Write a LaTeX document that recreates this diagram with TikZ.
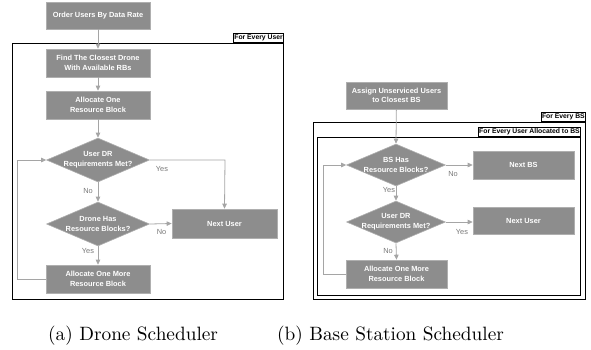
\documentclass[tikz,border=0pt]{standalone}
\usepackage{fontspec}
\newfontfamily\arial{Liberation Sans}
\newfontfamily\capfont{lmroman10-regular.otf}
\usetikzlibrary{shapes.geometric,arrows.meta}
\definecolor{boxgray}{RGB}{141,141,141}
\definecolor{boxedge}{RGB}{175,175,175}
\definecolor{linegray}{RGB}{165,165,165}
\definecolor{labgray}{RGB}{120,120,120}
\tikzset{
  procbox/.style={rectangle, fill=boxgray, draw=boxedge, line width=0.6pt, text=white,
    font=\arial\bfseries\fontsize{7.4}{8.6}\selectfont, align=center, inner sep=0pt},
  decis/.style={diamond, fill=boxgray, draw=boxedge, line width=0.6pt, inner sep=0pt, aspect=2.3},
  dtext/.style={text=white, font=\arial\bfseries\fontsize{7.4}{8.6}\selectfont, align=center, inner sep=0pt},
  flow/.style={draw=linegray, line width=0.8pt, -{Triangle[length=5pt,width=4.5pt]}},
  lab/.style={text=labgray, font=\arial\fontsize{7.4}{8.6}\selectfont, inner sep=0pt},
  frame/.style={draw=black, line width=1.1pt},
  ftag/.style={draw=black, line width=1.1pt, fill=white, font=\arial\bfseries\fontsize{6.8}{8}\selectfont,
    inner xsep=0.8pt, inner ysep=1.5pt, anchor=south east},
  capt/.style={font=\capfont\fontsize{19.3}{22}\selectfont, inner sep=0pt}
}
\begin{document}
\begin{tikzpicture}[x=1pt,y=-1pt]
\useasboundingbox (0,0) rectangle (591,349);
% ---------------- left panel ----------------
\node[frame, rectangle, minimum width=271pt, minimum height=256pt, anchor=north west, inner sep=0pt] (lframe) at (12,43) {};
\node[ftag] (ltag) at (lframe.north east) {For Every User};
\node[procbox, minimum width=104pt, minimum height=27pt] (order) at (98,15.5) {Order Users By Data Rate};
\node[procbox, minimum width=104pt, minimum height=28pt] (find) at (98,63) {Find The Closest Drone\\[1pt]With Available RBs};
\node[procbox, minimum width=104pt, minimum height=28pt] (alloc) at (98,105) {Allocate One\\[1pt]Resource Block};
\node[decis, minimum width=103pt, minimum height=44pt] (d1) at (98,160) {};
\node[dtext] at (d1.center) {User DR\\[1pt]Requirements Met?};
\node[decis, minimum width=103pt, minimum height=44pt] (d2) at (98,224) {};
\node[dtext] at (d2.center) {Drone Has\\[1pt]Resource Blocks?};
\node[procbox, minimum width=104pt, minimum height=28pt] (more) at (98,279) {Allocate One More\\[1pt]Resource Block};
\node[procbox, minimum width=105pt, minimum height=29pt] (next) at (224.5,223.5) {Next User};
\coordinate (lloop) at (17,279);
\coordinate (lyes) at (225,160);

\draw[flow] (order) -- (find);
\draw[flow] (find) -- (alloc);
\draw[flow] (alloc) -- (d1.north);
\draw[flow] (d1.south) -- (d2.north);
\draw[flow] (d2.south) -- (more.north);
\draw[flow] (d2.east) -- (next.west);
\draw[flow] (d1.east) -- (lyes) -- (next.north);
\draw[flow] (more.west) -- (lloop) |- (d1.west);
\node[lab] at (162,169) {Yes};
\node[lab] at (88,190.5) {No};
\node[lab] at (161.5,232) {No};
\node[lab] at (88,251) {Yes};

% ---------------- right panel ----------------
\node[frame, rectangle, minimum width=272pt, minimum height=177pt, anchor=north west, inner sep=0pt] (oframe) at (313,122) {};
\node[ftag] (otag) at (oframe.north east) {For Every BS};
\node[frame, rectangle, minimum width=263pt, minimum height=158pt, anchor=north west, inner sep=0pt] (iframe) at (317,137) {};
\node[ftag] (itag) at (iframe.north east) {For Every User Allocated to BS};
\node[procbox, minimum width=101pt, minimum height=27pt] (assign) at (396.5,95.5) {Assign Unserviced Users\\[1pt]to Closest BS};
\node[decis, minimum width=99pt, minimum height=42pt] (d3) at (396,165) {};
\node[dtext] at (d3.center) {BS Has\\[1pt]Resource Blocks?};
\node[procbox, minimum width=101pt, minimum height=28pt] (nextbs) at (523.5,165) {Next BS};
\node[decis, minimum width=99pt, minimum height=42pt] (d4) at (396,222) {};
\node[dtext] at (d4.center) {User DR\\[1pt]Requirements Met?};
\node[procbox, minimum width=101pt, minimum height=27pt] (nextu) at (523.5,220.5) {Next User};
\node[procbox, minimum width=101pt, minimum height=28pt] (more2) at (396.5,274) {Allocate One More\\[1pt]Resource Block};
\coordinate (rloop) at (323,274);

\draw[flow] (assign) -- (d3.north);
\draw[flow] (d3.east) -- (d3.east -| nextbs.west);
\draw[flow] (d3.south) -- (d4.north);
\draw[flow] (d4.east) -- (d4.east -| nextu.west);
\draw[flow] (d4.south) -- (more2.north);
\draw[flow] (more2.west) -- (rloop) |- (d3.west);
\node[lab] at (453,173.5) {No};
\node[lab] at (389,190) {Yes};
\node[lab] at (462,231.5) {Yes};
\node[lab] at (388,251) {No};

% ---------------- captions ----------------
\node[capt, anchor=base west] (capa) at (48,340) {(a) Drone Scheduler};
\node[capt, anchor=base west] (capb) at (277,340) {(b) Base Station Scheduler};
\end{tikzpicture}
\end{document}
